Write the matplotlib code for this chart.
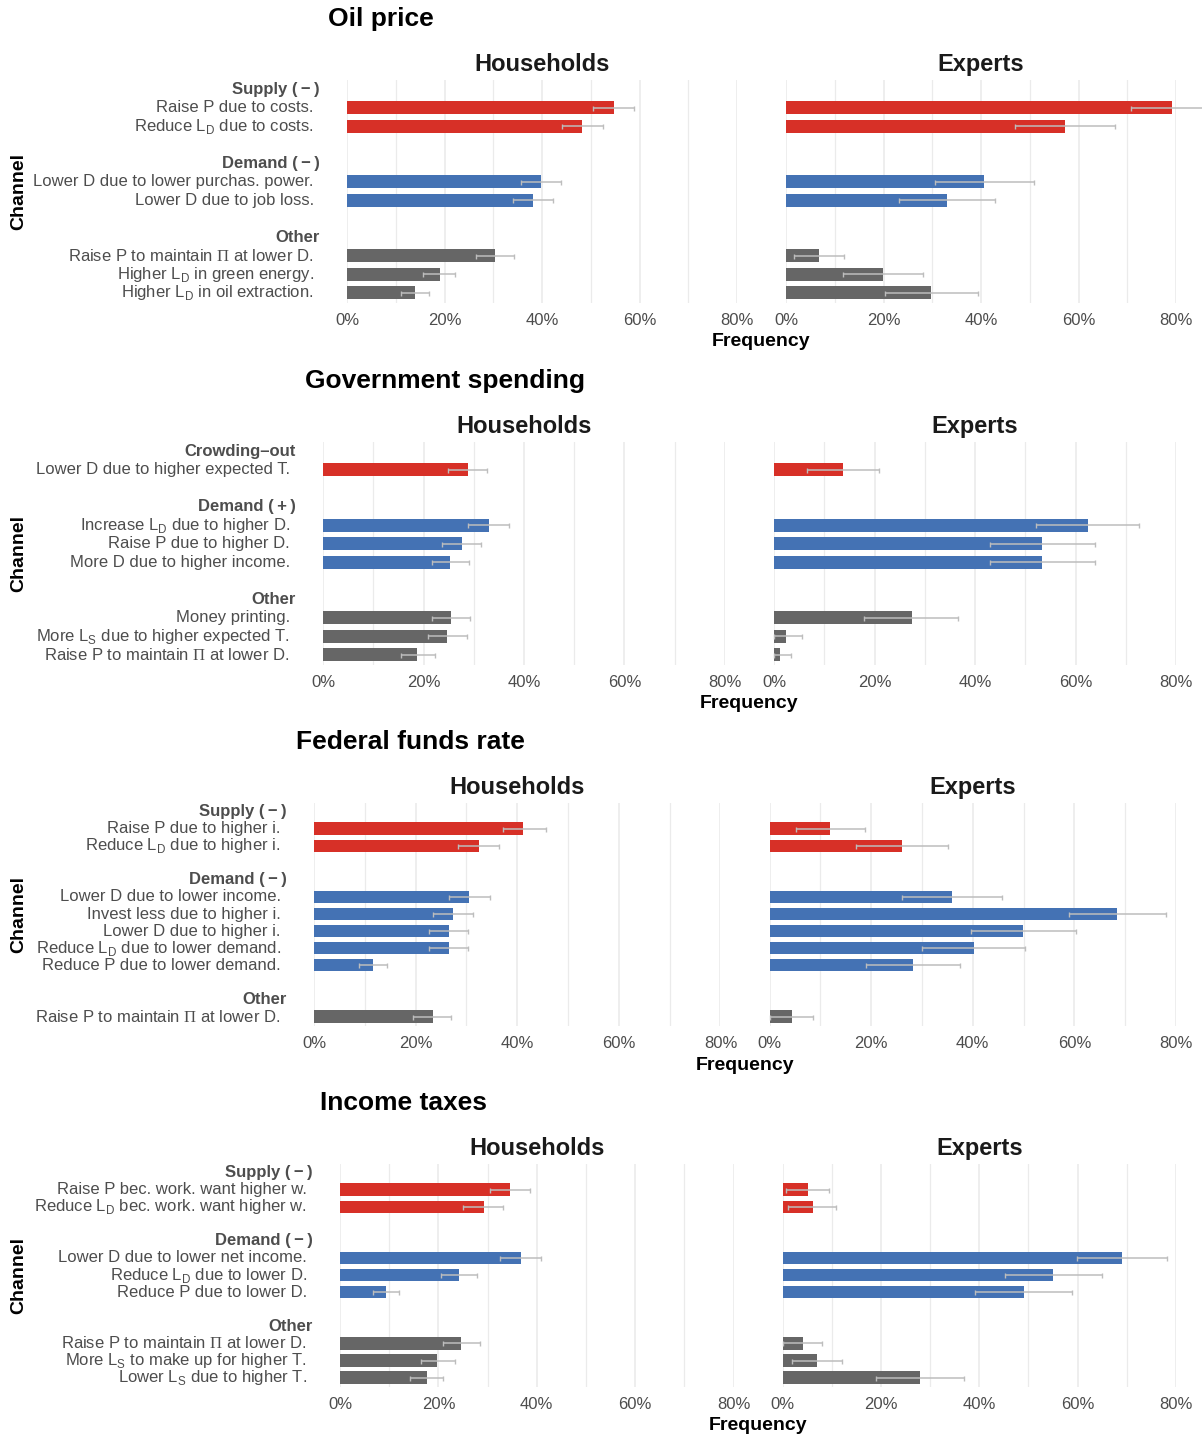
import matplotlib.pyplot as plt
from matplotlib.ticker import MultipleLocator, FuncFormatter

plt.rcParams['font.family'] = ['Liberation Sans', 'DejaVu Sans']
plt.rcParams['mathtext.fontset'] = 'custom'
plt.rcParams['mathtext.rm'] = 'Liberation Sans'
plt.rcParams['mathtext.sf'] = 'Liberation Serif'

PI = r'$\mathsf{\Pi}$'
LD = r'L$_\mathrm{D}$'
LS = r'L$_\mathrm{S}$'
MINUS = '(\u2009\u2212\u2009)'

## Oil price
oil_headers = ['Supply ' + MINUS, 'Demand ' + MINUS, 'Other']
oil_sizes = [2, 2, 3]
oil_channels = ['Raise P due to costs.', 'Reduce ' + LD + ' due to costs.',
                'Lower D due to lower purchas. power.', 'Lower D due to job loss.',
                'Raise P to maintain ' + PI + ' at lower D.', 'Higher ' + LD + ' in green energy.',
                'Higher ' + LD + ' in oil extraction.']
oil_hh = [54.7, 48.2, 39.8, 38.2, 30.4, 19.0, 13.9]
oil_hh_lo = [50.4, 44.0, 35.7, 34.1, 26.5, 15.5, 11.0]
oil_hh_hi = [58.8, 52.6, 43.9, 42.3, 34.3, 22.2, 16.8]
oil_ex = [79.1, 57.3, 40.7, 33.1, 6.8, 19.9, 29.7]
oil_ex_lo = [70.7, 46.9, 30.5, 23.2, 1.6, 11.6, 20.3]
oil_ex_hi = [87.5, 67.4, 50.9, 42.8, 11.9, 28.2, 39.3]

## Government spending
gov_headers = ['Crowding\u2013out', 'Demand (\u2009+\u2009)', 'Other']
gov_sizes = [1, 3, 3]
gov_channels = ['Lower D due to higher expected T.',
                'Increase ' + LD + ' due to higher D.', 'Raise P due to higher D.',
                'More D due to higher income.',
                'Money printing.', 'More ' + LS + ' due to higher expected T.',
                'Raise P to maintain ' + PI + ' at lower D.']
gov_hh = [28.8, 33.0, 27.6, 25.2, 25.4, 24.6, 18.8]
gov_hh_lo = [24.8, 28.9, 23.7, 21.6, 21.6, 20.9, 15.5]
gov_hh_hi = [32.6, 37.0, 31.5, 29.0, 29.3, 28.6, 22.3]
gov_ex = [13.7, 62.5, 53.4, 53.4, 27.4, 2.3, 1.1]
gov_ex_lo = [6.6, 52.2, 42.9, 42.9, 18.0, 0.0, 0.0]
gov_ex_hi = [20.9, 72.7, 63.9, 63.9, 36.7, 5.5, 3.4]

## Federal funds rate
fed_headers = ['Supply ' + MINUS, 'Demand ' + MINUS, 'Other']
fed_sizes = [2, 5, 1]
fed_channels = ['Raise P due to higher i.', 'Reduce ' + LD + ' due to higher i.',
                'Lower D due to lower income.', 'Invest less due to higher i.',
                'Lower D due to higher i.', 'Reduce ' + LD + ' due to lower demand.',
                'Reduce P due to lower demand.',
                'Raise P to maintain ' + PI + ' at lower D.']
fed_hh = [41.2, 32.4, 30.6, 27.3, 26.5, 26.5, 11.6, 23.4]
fed_hh_lo = [37.1, 28.4, 26.5, 23.5, 22.7, 22.7, 8.8, 19.5]
fed_hh_hi = [45.6, 36.5, 34.6, 31.2, 30.4, 30.4, 14.4, 27.0]
fed_ex = [11.9, 26.1, 35.9, 68.4, 49.9, 40.3, 28.3, 4.5]
fed_ex_lo = [5.3, 17.0, 26.0, 58.9, 39.7, 30.1, 19.0, 0.0]
fed_ex_hi = [18.7, 35.1, 45.7, 78.0, 60.3, 50.3, 37.5, 8.5]

## Income taxes
tax_headers = ['Supply ' + MINUS, 'Demand ' + MINUS, 'Other']
tax_sizes = [2, 3, 3]
tax_channels = ['Raise P bec. work. want higher w.', 'Reduce ' + LD + ' bec. work. want higher w.',
                'Lower D due to lower net income.', 'Reduce ' + LD + ' due to lower D.',
                'Reduce P due to lower D.',
                'Raise P to maintain ' + PI + ' at lower D.', 'More ' + LS + ' to make up for higher T.',
                'Lower ' + LS + ' due to higher T.']
tax_hh = [34.6, 29.2, 36.7, 24.1, 9.4, 24.7, 19.8, 17.6]
tax_hh_lo = [30.5, 25.1, 32.5, 20.5, 6.8, 20.9, 16.4, 14.2]
tax_hh_hi = [38.7, 33.1, 40.9, 27.9, 12.0, 28.5, 23.3, 20.9]
tax_ex = [5.1, 6.2, 69.0, 55.0, 49.1, 4.1, 7.1, 28.0]
tax_ex_lo = [0.7, 1.2, 59.9, 45.2, 39.1, 0.0, 1.9, 19.1]
tax_ex_hi = [9.4, 10.8, 78.1, 64.9, 58.9, 8.0, 12.1, 37.0]

blocks = [
    ('Oil price', oil_headers, oil_sizes, oil_channels,
     (oil_hh, oil_hh_lo, oil_hh_hi), (oil_ex, oil_ex_lo, oil_ex_hi)),
    ('Government spending', gov_headers, gov_sizes, gov_channels,
     (gov_hh, gov_hh_lo, gov_hh_hi), (gov_ex, gov_ex_lo, gov_ex_hi)),
    ('Federal funds rate', fed_headers, fed_sizes, fed_channels,
     (fed_hh, fed_hh_lo, fed_hh_hi), (fed_ex, fed_ex_lo, fed_ex_hi)),
    ('Income taxes', tax_headers, tax_sizes, tax_channels,
     (tax_hh, tax_hh_lo, tax_hh_hi), (tax_ex, tax_ex_lo, tax_ex_hi)),
]

#色
palette = ['#D73027', '#4472B4', '#666666']
GRID = '#EBEBEB'
TXT = '#4D4D4D'

##レイアウト (pixel)
W, H = 1202, 1436
title_y = [19, 381, 742, 1103]
title_x = [381, 445, 410, 404]
left_px = [347, 323, 314, 340]
RIGHT = 1176
GAP = 49

fig = plt.figure(figsize=(W / 100, H / 100), dpi=100)


def box(x0, y0, x1, y1):
    return [x0 / W, 1 - y1 / H, (x1 - x0) / W, (y1 - y0) / H]


def layout_rows(sizes):
    head_rows, item_rows, groups = [], [], []
    r = 0
    for g, k in enumerate(sizes):
        head_rows.append(r)
        r += 1
        item_rows += list(range(r, r + k))
        groups += [g] * k
        r += k + 1
    return head_rows, item_rows, groups, r - 1


for i, (title, headers, sizes, channels, hh, ex) in enumerate(blocks):
    ty = title_y[i]
    top, bot = ty + 61, ty + 284
    pw = (RIGHT - left_px[i] - GAP) / 2
    x0s = [left_px[i], left_px[i] + pw + GAP]
    head_rows, item_rows, groups, n = layout_rows(sizes)
    colors = [palette[g] for g in groups]

    fig.text(title_x[i] / W, 1 - ty / H, title, ha='center', va='center',
             fontsize=19, fontweight='bold', color='black')

    for j, (name, (vals, lo, hi)) in enumerate([('Households', hh), ('Experts', ex)]):
        ax = fig.add_axes(box(x0s[j], top, x0s[j] + pw, bot))
        ax.barh(item_rows, vals, height=0.72, color=colors, zorder=2)
        xerr = [[v - l for v, l in zip(vals, lo)], [h - v for v, h in zip(vals, hi)]]
        eb = ax.errorbar(vals, item_rows, xerr=xerr, fmt='none', ecolor='#BDBDBD',
                         elinewidth=1.1, capsize=1.8, capthick=1.0, zorder=3)
        for part in eb.lines[1] + eb.lines[2]:
            part.set_clip_on(False)

        ax.set_xlim(0, 80)
        ax.set_ylim(n - 1 + 0.55, -0.5)
        ax.xaxis.set_major_locator(MultipleLocator(20))
        ax.xaxis.set_minor_locator(MultipleLocator(10))
        ax.xaxis.set_major_formatter(FuncFormatter(lambda x, p: f'{x:.0f}%'))
        ax.grid(axis='x', which='major', color=GRID, lw=1.2)
        ax.grid(axis='x', which='minor', color=GRID, lw=0.9)
        ax.set_axisbelow(True)
        ax.set_yticks([])
        ax.tick_params(axis='x', which='both', length=0, labelsize=12, labelcolor=TXT, pad=7.5)
        for s in ax.spines.values():
            s.set_visible(False)

        ax.annotate(name, xy=(0.5, 1), xycoords='axes fraction', xytext=(0, 11.5),
                    textcoords='offset points', ha='center', va='center',
                    fontsize=17, fontweight='bold', color='#1A1A1A')

        if j == 0:
            for r, lab in zip(item_rows, channels):
                ax.annotate(lab, xy=(0, r), xycoords=('axes fraction', 'data'),
                            xytext=(-24, 0), textcoords='offset points',
                            ha='right', va='center', fontsize=12, color=TXT)
            for r, lab in zip(head_rows, headers):
                ax.annotate(lab, xy=(0, r), xycoords=('axes fraction', 'data'),
                            xytext=(-19.5, 0), textcoords='offset points',
                            ha='right', va='center', fontsize=12, color=TXT,
                            fontweight='bold')

    #軸ラベル
    fig.text((left_px[i] + RIGHT) / 2 / W, 1 - (bot + 39) / H, 'Frequency',
             ha='center', va='center', fontsize=14, fontweight='bold')
    fig.text(19 / W, 1 - (top + bot) / 2 / H, 'Channel', rotation=90,
             ha='center', va='center', fontsize=14, fontweight='bold')

fig.savefig('out.png', dpi=100)
